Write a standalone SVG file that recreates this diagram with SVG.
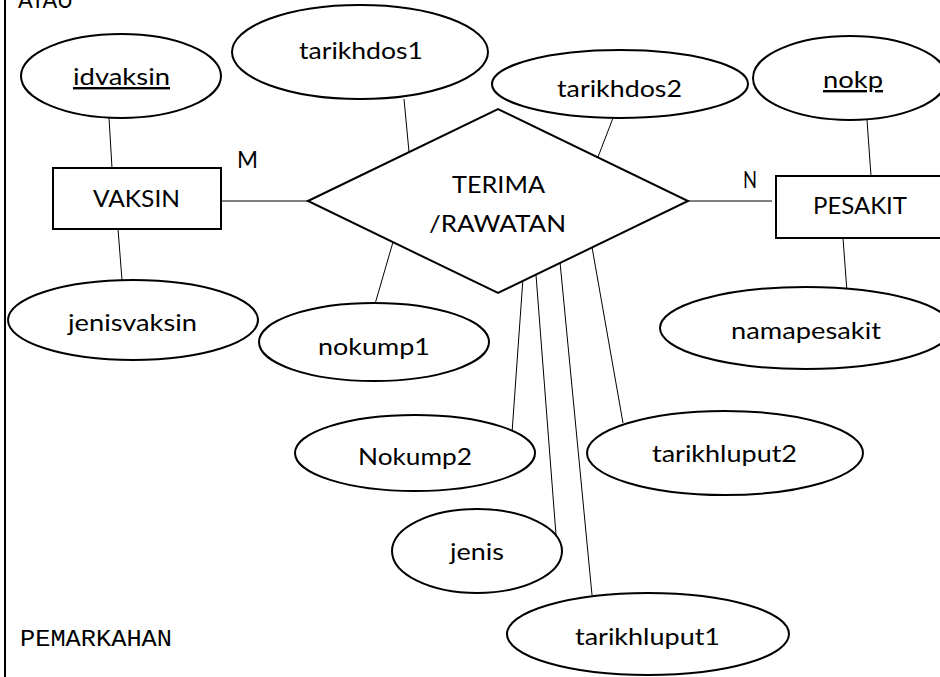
<svg xmlns="http://www.w3.org/2000/svg" width="940" height="677" viewBox="0 0 940 677">
<style>
.shape{fill:#fff;stroke:#000;stroke-width:2}
.conn line{stroke:#000;stroke-width:1}
text{font-family:Lato,"Open Sans","Liberation Sans",sans-serif;font-size:24px;fill:#000}
.mono{font-family:"Liberation Mono","DejaVu Sans Mono",monospace;font-size:23px}
.u{text-decoration:underline}
</style>
<rect width="940" height="677" fill="#fff"/>
<line x1="5" y1="0" x2="5" y2="677" stroke="#000" stroke-width="2"/>
<text x="18" y="8" textLength="55" lengthAdjust="spacingAndGlyphs">ATAU</text>
<text class="mono" x="20" y="646" textLength="152" lengthAdjust="spacingAndGlyphs">PEMARKAHAN</text>

<g id="connectors" class="conn">
<line x1="109" y1="118" x2="112" y2="168"/>
<line x1="118" y1="229" x2="122" y2="280"/>
<line x1="221" y1="201" x2="308" y2="201"/>
<line x1="404" y1="99" x2="409" y2="152"/>
<line x1="613" y1="118" x2="598" y2="157"/>
<line x1="688" y1="201" x2="772" y2="201"/>
<line x1="867" y1="120" x2="871" y2="176"/>
<line x1="843" y1="238" x2="847" y2="292"/>
<line x1="393" y1="242" x2="375" y2="304"/>
<line x1="523" y1="278" x2="512" y2="433"/>
<line x1="536" y1="275" x2="556" y2="535"/>
<line x1="560" y1="262" x2="592" y2="595"/>
<line x1="592" y1="247" x2="623" y2="423"/>
</g>

<g id="idvaksin"><ellipse class="shape" cx="121" cy="76" rx="100" ry="42"/><text class="u" x="73" y="85" textLength="97" lengthAdjust="spacingAndGlyphs">idvaksin</text></g>
<g id="tarikhdos1"><ellipse class="shape" cx="360" cy="52" rx="128" ry="47"/><text x="299" y="59" textLength="124" lengthAdjust="spacingAndGlyphs">tarikhdos1</text></g>
<g id="tarikhdos2"><ellipse class="shape" cx="620" cy="84" rx="128" ry="34"/><text x="557" y="97" textLength="125" lengthAdjust="spacingAndGlyphs">tarikhdos2</text></g>
<g id="nokp"><ellipse class="shape" cx="850" cy="78" rx="97" ry="42"/><text class="u" x="823" y="88" textLength="60" lengthAdjust="spacingAndGlyphs">nokp</text></g>
<g id="vaksin"><rect class="shape" x="53" y="168" width="168" height="61"/><text x="93" y="207" textLength="87" lengthAdjust="spacingAndGlyphs">VAKSIN</text></g>
<text x="237" y="168" textLength="21" lengthAdjust="spacingAndGlyphs">M</text>
<g id="terima"><polygon class="shape" points="308,201 498,109 688,201 498,293"/><text x="452" y="193" textLength="93" lengthAdjust="spacingAndGlyphs">TERIMA</text><text x="429" y="232" textLength="137" lengthAdjust="spacingAndGlyphs">/RAWATAN</text></g>
<text x="743" y="188" textLength="14" lengthAdjust="spacingAndGlyphs">N</text>
<g id="pesakit"><rect class="shape" x="776" y="176" width="168" height="62"/><text x="813" y="214" textLength="94" lengthAdjust="spacingAndGlyphs">PESAKIT</text></g>
<g id="jenisvaksin"><ellipse class="shape" cx="133" cy="320" rx="125" ry="40"/><text x="68" y="331" textLength="129" lengthAdjust="spacingAndGlyphs">jenisvaksin</text></g>
<g id="nokump1"><ellipse class="shape" cx="374" cy="342" rx="115" ry="39"/><text x="318" y="355" textLength="112" lengthAdjust="spacingAndGlyphs">nokump1</text></g>
<g id="namapesakit"><ellipse class="shape" cx="806" cy="328" rx="146" ry="41"/><text x="731" y="339" textLength="150" lengthAdjust="spacingAndGlyphs">namapesakit</text></g>
<g id="nokump2"><ellipse class="shape" cx="415" cy="453" rx="120" ry="38"/><text x="358" y="465" textLength="114" lengthAdjust="spacingAndGlyphs">Nokump2</text></g>
<g id="tarikhluput2"><ellipse class="shape" cx="725" cy="453" rx="138" ry="42"/><text x="652" y="462" textLength="145" lengthAdjust="spacingAndGlyphs">tarikhluput2</text></g>
<g id="jenis"><ellipse class="shape" cx="477" cy="551" rx="85" ry="42"/><text x="450" y="560" textLength="54" lengthAdjust="spacingAndGlyphs">jenis</text></g>
<g id="tarikhluput1"><ellipse class="shape" cx="648" cy="634" rx="141" ry="41"/><text x="575" y="645" textLength="145" lengthAdjust="spacingAndGlyphs">tarikhluput1</text></g>
</svg>
